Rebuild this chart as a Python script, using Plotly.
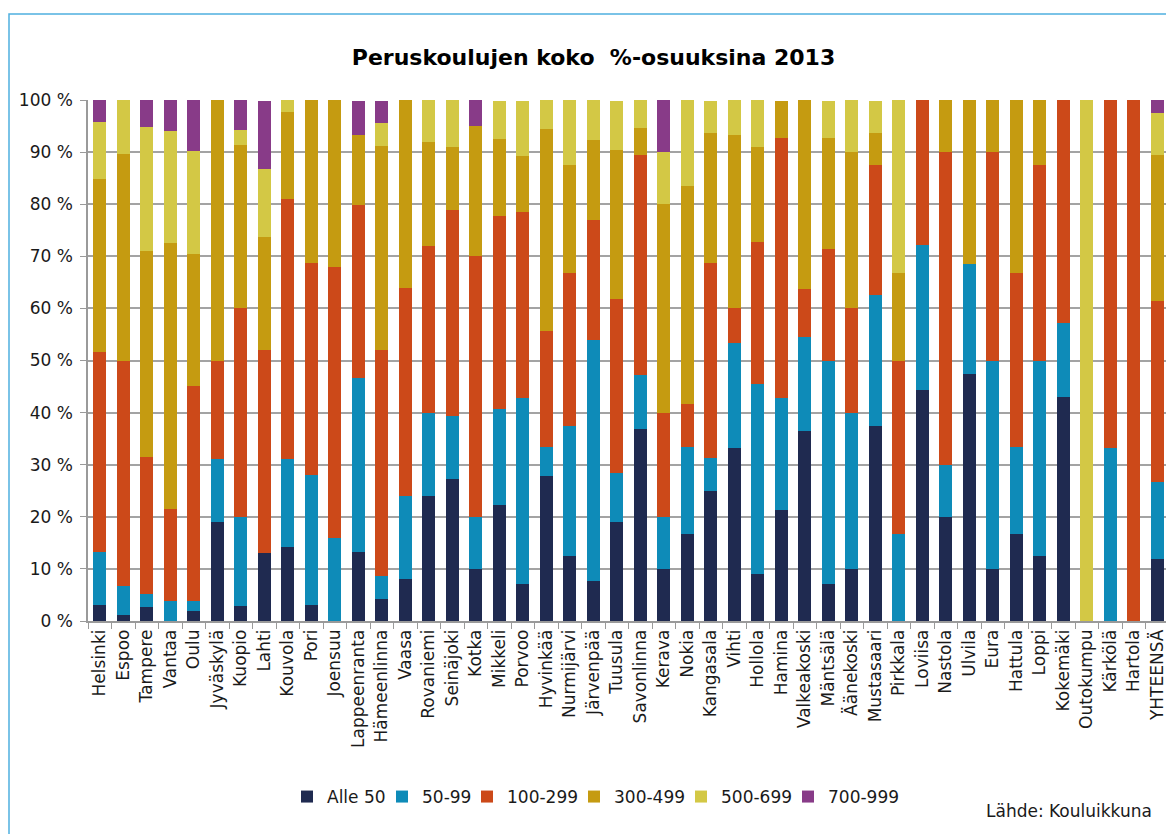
import plotly.graph_objects as go

categories = ["Helsinki", "Espoo", "Tampere", "Vantaa", "Oulu", "Jyväskylä", "Kuopio", "Lahti",
              "Kouvola", "Pori", "Joensuu", "Lappeenranta", "Hämeenlinna", "Vaasa", "Rovaniemi",
              "Seinäjoki", "Kotka", "Mikkeli", "Porvoo", "Hyvinkää", "Nurmijärvi", "Järvenpää",
              "Tuusula", "Savonlinna", "Kerava", "Nokia", "Kangasala", "Vihti", "Hollola", "Hamina",
              "Valkeakoski", "Mäntsälä", "Äänekoski", "Mustasaari", "Pirkkala", "Loviisa", "Nastola",
              "Ulvila", "Eura", "Hattula", "Loppi", "Kokemäki", "Outokumpu", "Kärkölä", "Hartola",
              "YHTEENSÄ"]

alle_50 = [3.1, 1.1, 2.7, 0, 1.9, 19.0, 2.9, 13.0, 14.3, 3.1, 0, 13.3, 4.3, 8.0, 24.0, 27.3, 10.0,
           22.2, 7.1, 27.8, 12.5, 7.7, 19.0, 36.8, 10.0, 16.7, 25.0, 33.3, 9.1, 21.4, 36.4, 7.1,
           10.0, 37.5, 0, 44.4, 20.0, 47.4, 10.0, 16.7, 12.5, 42.9, 0, 0, 0, 11.9]
s_50_99 = [10.2, 5.7, 2.5, 3.9, 2.0, 12.0, 17.1, 0, 16.7, 25.0, 16.0, 33.3, 4.3, 16.0, 16.0, 12.1,
           10.0, 18.5, 35.7, 5.6, 25.0, 46.2, 9.5, 10.5, 10.0, 16.7, 6.2, 20.0, 36.4, 21.4, 18.2,
           42.9, 30.0, 25.0, 16.7, 27.8, 10.0, 21.1, 40.0, 16.7, 37.5, 14.3, 0, 33.3, 0, 14.7]
s_100_299 = [38.3, 43.1, 26.3, 17.6, 41.2, 19.0, 40.0, 39.1, 50.0, 40.6, 52.0, 33.3, 43.5, 40.0,
             32.0, 39.4, 50.0, 37.0, 35.7, 22.2, 29.2, 23.1, 33.3, 42.1, 20.0, 8.3, 37.5, 6.7, 27.3,
             50.0, 9.1, 21.4, 20.0, 25.0, 33.3, 27.8, 60.0, 0, 40.0, 33.3, 37.5, 42.9, 0, 66.7, 100,
             34.8]
s_300_499 = [33.3, 39.8, 39.6, 51.1, 25.4, 50.0, 31.4, 21.7, 16.7, 31.3, 32.0, 13.3, 39.1, 36.0,
             20.0, 12.1, 25.0, 14.8, 10.7, 38.9, 20.8, 15.4, 28.6, 5.3, 40.0, 41.7, 25.0, 33.3, 18.2,
             7.1, 36.4, 21.4, 30.0, 6.2, 16.7, 0, 10.0, 31.6, 10.0, 33.3, 12.5, 0, 0, 0, 0, 28.0]
s_500_699 = [10.9, 10.3, 23.7, 21.5, 19.7, 0, 2.9, 13.0, 2.4, 0, 0, 0, 4.3, 0, 8.0, 9.1, 0, 7.4,
             10.7, 5.6, 12.5, 7.7, 9.5, 5.3, 10.0, 16.7, 6.2, 6.7, 9.1, 0, 0, 7.1, 10.0, 6.2, 33.3,
             0, 0, 0, 0, 0, 0, 0, 100, 0, 0, 8.2]
s_700_999 = [4.2, 0, 5.2, 5.9, 9.8, 0, 5.7, 13.0, 0, 0, 0, 6.7, 4.3, 0, 0, 0, 5.0, 0, 0, 0, 0, 0,
             0, 0, 10.0, 0, 0, 0, 0, 0, 0, 0, 0, 0, 0, 0, 0, 0, 0, 0, 0, 0, 0, 0, 0, 2.4]

series_names = ["Alle 50", "50-99", "100-299", "300-499", "500-699", "700-999"]
series_values = [alle_50, s_50_99, s_100_299, s_300_499, s_500_699, s_700_999]
colors = ["#1F2A50", "#0E8BB8", "#CC4919", "#C59B11", "#D3C845", "#883B88"]
legend_widths = [50, 40, 62, 62, 62, 76]

y_tick_vals = [0, 10, 20, 30, 40, 50, 60, 70, 80, 90, 100]
y_tick_text = ["0 %", "10 %", "20 %", "30 %", "40 %", "50 %", "60 %", "70 %", "80 %", "90 %", "100 %"]

title_text = "<b>Peruskoulujen koko  %-osuuksina 2013</b>"
source_text = "Lähde: Kouluikkuna"

W, H = 1166, 834
ML = 88
MT = 100
PLOT_BOTTOM = 621
PLOT_RIGHT = 1166
MR = W - PLOT_RIGHT
MB = H - PLOT_BOTTOM
PW = W - ML - MR
PH = H - MT - MB


def px_x(p):
    return (p - ML) / PW


def px_y(p):
    return (PLOT_BOTTOM - p) / PH


fig = go.Figure()
for name, vals, col, lw in zip(series_names, series_values, colors, legend_widths):
    fig.add_trace(go.Bar(x=categories, y=vals, name=name, legendwidth=lw,
                         marker=dict(color=col, line=dict(width=0))))

FONT = "DejaVu Sans, Verdana, sans-serif"
TXT = "#1a1a1a"

fig.update_layout(
    width=W, height=H,
    barmode="stack", bargap=0.46,
    plot_bgcolor="white", paper_bgcolor="white",
    margin=dict(l=ML, r=MR, t=MT, b=MB, autoexpand=False),
    font=dict(family=FONT, size=17, color=TXT),
    title=dict(text=title_text, x=593.5 / W, xanchor="center",
               y=1 - 57 / H, yanchor="middle", xref="container", yref="container",
               font=dict(family=FONT, size=22, color="#000")),
    xaxis=dict(type="category", range=[-0.5, 45.37], tickangle=-90, ticks="outside", ticklen=6,
               tickcolor="#9a9a9a", tickson="boundaries", showline=True, linecolor="#9a9a9a",
               linewidth=1.5, showgrid=False, tickfont=dict(size=17, color=TXT)),
    yaxis=dict(range=[0, 100], tickvals=y_tick_vals, ticktext=y_tick_text, ticks="outside",
               ticklen=6, tickcolor="#9a9a9a", showline=True, linecolor="#9a9a9a", linewidth=1.5,
               showgrid=True, gridcolor="#a3a3a3", gridwidth=1.5, zeroline=False,
               ticklabelstandoff=4, tickfont=dict(size=17, color=TXT)),
    legend=dict(orientation="h", x=px_x(598), xanchor="center", y=px_y(797), yanchor="middle",
                font=dict(size=17, color=TXT), itemwidth=30, traceorder="normal",
                bgcolor="rgba(0,0,0,0)"),
    annotations=[dict(text=source_text, xref="paper", yref="paper", x=px_x(1154), y=px_y(811),
                      xanchor="right", yanchor="middle", showarrow=False,
                      font=dict(size=17, color=TXT))],
    shapes=[dict(type="rect", xref="paper", yref="paper", x0=px_x(9), x1=px_x(1190),
                 y0=px_y(860), y1=px_y(14), line=dict(color="#4FB0E0", width=1.5),
                 fillcolor="rgba(0,0,0,0)", layer="below")],
)

page_fix = ("document.documentElement.style.margin='0';document.body.style.margin='0';"
            "document.documentElement.style.overflow='hidden';document.body.style.overflow='hidden';")

fig.write_html("out.html", post_script=page_fix, config={"displayModeBar": False})
